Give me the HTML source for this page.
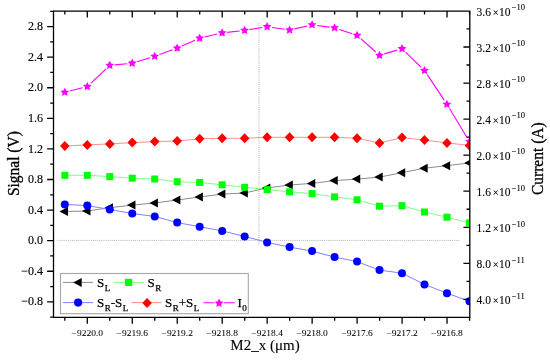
<!DOCTYPE html>
<html><head><meta charset="utf-8"><title>Signal vs M2_x</title>
<style>html,body{margin:0;padding:0;background:#fff;}svg{display:block;}text{font-family:"Liberation Serif","Times New Roman",serif;fill:#000;}</style>
</head><body>
<svg width="550" height="361" viewBox="0 0 550 361">
<rect width="550" height="361" fill="#fff"/>
<defs><clipPath id="pc"><rect x="53.5" y="11.1" width="416.3" height="306.3"/></clipPath></defs>
<line x1="57.3" y1="240.4" x2="460" y2="240.4" stroke="#a8a8a8" stroke-width="0.9" stroke-dasharray="1 1.1"/>
<line x1="259" y1="22.9" x2="259" y2="245.8" stroke="#a8a8a8" stroke-width="0.9" stroke-dasharray="1 1.1"/>
<g clip-path="url(#pc)">
<path d="M69.64,91.05L82.44,87.75 M90.93,83.08L106.11,68.82 M114.74,64.91L127.26,63.69 M137.02,61.73L149.94,57.77 M159.42,54.59L172.5,49.81 M181.78,46.08L195.1,40.22 M204.55,37.05L217.29,34.05 M227.13,32.35L239.67,30.95 M249.57,29.59L262.19,27.51 M272.07,27.43L284.65,29.27 M294.47,28.87L307.21,25.93 M317.04,25.46L329.6,27.14 M339.3,29.4L352.3,33.8 M360.78,38.71L375.78,51.99 M384.32,53.89L397.2,50.11 M405.59,52.18L420.89,67.02 M427.25,74.66L444.19,100.14 M449.55,108.58L466.85,137.22" fill="none" stroke="#ff00ff" stroke-width="1.1"/>
<polyline points="64.8,146 87.28,144.9 109.76,143.9 132.24,142.6 154.72,141.6 177.2,141 199.68,138.8 222.16,138.3 244.64,138.3 267.12,137.3 289.6,137.3 312.08,137.3 334.56,137.3 357.04,138.3 379.52,142.9 402,137.6 424.48,140 446.96,142.9 469.44,145.4" fill="none" stroke="#ff8f8f" stroke-width="1"/>
<polyline points="64.8,175.3 87.28,175.3 109.76,176.6 132.24,178.2 154.72,179 177.2,181.7 199.68,182.5 222.16,184.8 244.64,187.3 267.12,189.6 289.6,191.8 312.08,193.6 334.56,196.9 357.04,199.8 379.52,206.2 402,205.7 424.48,212 446.96,217.2 469.44,222.9" fill="none" stroke="#80ff80" stroke-width="1"/>
<polyline points="64.8,211.5 87.28,211 109.76,207.7 132.24,205.1 154.72,203 177.2,200 199.68,197 222.16,194.1 244.64,193 267.12,187.9 289.6,185 312.08,183.4 334.56,180.6 357.04,179.1 379.52,177.1 402,172.7 424.48,168.2 446.96,165.7 469.44,162.9" fill="none" stroke="#8c8c8c" stroke-width="1"/>
<polyline points="64.8,204.4 87.28,205.6 109.76,209.4 132.24,213.6 154.72,216.4 177.2,222.6 199.68,226.7 222.16,230.9 244.64,236.4 267.12,242.4 289.6,247.1 312.08,251.1 334.56,257.1 357.04,261.6 379.52,270.1 402,273.2 424.48,284.4 446.96,293.2 469.44,301.3" fill="none" stroke="#8080ff" stroke-width="1"/>
<path fill="#000" d="M59.5,211.5 L68,207 L68,216 Z M81.98,211 L90.48,206.5 L90.48,215.5 Z M104.46,207.7 L112.96,203.2 L112.96,212.2 Z M126.94,205.1 L135.44,200.6 L135.44,209.6 Z M149.42,203 L157.92,198.5 L157.92,207.5 Z M171.9,200 L180.4,195.5 L180.4,204.5 Z M194.38,197 L202.88,192.5 L202.88,201.5 Z M216.86,194.1 L225.36,189.6 L225.36,198.6 Z M239.34,193 L247.84,188.5 L247.84,197.5 Z M261.82,187.9 L270.32,183.4 L270.32,192.4 Z M284.3,185 L292.8,180.5 L292.8,189.5 Z M306.78,183.4 L315.28,178.9 L315.28,187.9 Z M329.26,180.6 L337.76,176.1 L337.76,185.1 Z M351.74,179.1 L360.24,174.6 L360.24,183.6 Z M374.22,177.1 L382.72,172.6 L382.72,181.6 Z M396.7,172.7 L405.2,168.2 L405.2,177.2 Z M419.18,168.2 L427.68,163.7 L427.68,172.7 Z M441.66,165.7 L450.16,161.2 L450.16,170.2 Z M464.14,162.9 L472.64,158.4 L472.64,167.4 Z"/>
<g fill="#00ff00"><rect x="61.3" y="171.8" width="7" height="7"/><rect x="83.78" y="171.8" width="7" height="7"/><rect x="106.26" y="173.1" width="7" height="7"/><rect x="128.74" y="174.7" width="7" height="7"/><rect x="151.22" y="175.5" width="7" height="7"/><rect x="173.7" y="178.2" width="7" height="7"/><rect x="196.18" y="179" width="7" height="7"/><rect x="218.66" y="181.3" width="7" height="7"/><rect x="241.14" y="183.8" width="7" height="7"/><rect x="263.62" y="186.1" width="7" height="7"/><rect x="286.1" y="188.3" width="7" height="7"/><rect x="308.58" y="190.1" width="7" height="7"/><rect x="331.06" y="193.4" width="7" height="7"/><rect x="353.54" y="196.3" width="7" height="7"/><rect x="376.02" y="202.7" width="7" height="7"/><rect x="398.5" y="202.2" width="7" height="7"/><rect x="420.98" y="208.5" width="7" height="7"/><rect x="443.46" y="213.7" width="7" height="7"/><rect x="465.94" y="219.4" width="7" height="7"/></g>
<g fill="#0000ff"><circle cx="64.8" cy="204.4" r="4"/><circle cx="87.28" cy="205.6" r="4"/><circle cx="109.76" cy="209.4" r="4"/><circle cx="132.24" cy="213.6" r="4"/><circle cx="154.72" cy="216.4" r="4"/><circle cx="177.2" cy="222.6" r="4"/><circle cx="199.68" cy="226.7" r="4"/><circle cx="222.16" cy="230.9" r="4"/><circle cx="244.64" cy="236.4" r="4"/><circle cx="267.12" cy="242.4" r="4"/><circle cx="289.6" cy="247.1" r="4"/><circle cx="312.08" cy="251.1" r="4"/><circle cx="334.56" cy="257.1" r="4"/><circle cx="357.04" cy="261.6" r="4"/><circle cx="379.52" cy="270.1" r="4"/><circle cx="402" cy="273.2" r="4"/><circle cx="424.48" cy="284.4" r="4"/><circle cx="446.96" cy="293.2" r="4"/><circle cx="469.44" cy="301.3" r="4"/></g>
<path fill="#ff00ff" d="M64.8,87.7 L66.15,90.44 L69.17,90.88 L66.99,93.01 L67.5,96.02 L64.8,94.6 L62.1,96.02 L62.61,93.01 L60.43,90.88 L63.45,90.44Z M87.28,81.9 L88.63,84.64 L91.65,85.08 L89.47,87.21 L89.98,90.22 L87.28,88.8 L84.58,90.22 L85.09,87.21 L82.91,85.08 L85.93,84.64Z M109.76,60.8 L111.11,63.54 L114.13,63.98 L111.95,66.11 L112.46,69.12 L109.76,67.7 L107.06,69.12 L107.57,66.11 L105.39,63.98 L108.41,63.54Z M132.24,58.6 L133.59,61.34 L136.61,61.78 L134.43,63.91 L134.94,66.92 L132.24,65.5 L129.54,66.92 L130.05,63.91 L127.87,61.78 L130.89,61.34Z M154.72,51.7 L156.07,54.44 L159.09,54.88 L156.91,57.01 L157.42,60.02 L154.72,58.6 L152.02,60.02 L152.53,57.01 L150.35,54.88 L153.37,54.44Z M177.2,43.5 L178.55,46.24 L181.57,46.68 L179.39,48.81 L179.9,51.82 L177.2,50.4 L174.5,51.82 L175.01,48.81 L172.83,46.68 L175.85,46.24Z M199.68,33.6 L201.03,36.34 L204.05,36.78 L201.87,38.91 L202.38,41.92 L199.68,40.5 L196.98,41.92 L197.49,38.91 L195.31,36.78 L198.33,36.34Z M222.16,28.3 L223.51,31.04 L226.53,31.48 L224.35,33.61 L224.86,36.62 L222.16,35.2 L219.46,36.62 L219.97,33.61 L217.79,31.48 L220.81,31.04Z M244.64,25.8 L245.99,28.54 L249.01,28.98 L246.83,31.11 L247.34,34.12 L244.64,32.7 L241.94,34.12 L242.45,31.11 L240.27,28.98 L243.29,28.54Z M267.12,22.1 L268.47,24.84 L271.49,25.28 L269.31,27.41 L269.82,30.42 L267.12,29 L264.42,30.42 L264.93,27.41 L262.75,25.28 L265.77,24.84Z M289.6,25.4 L290.95,28.14 L293.97,28.58 L291.79,30.71 L292.3,33.72 L289.6,32.3 L286.9,33.72 L287.41,30.71 L285.23,28.58 L288.25,28.14Z M312.08,20.2 L313.43,22.94 L316.45,23.38 L314.27,25.51 L314.78,28.52 L312.08,27.1 L309.38,28.52 L309.89,25.51 L307.71,23.38 L310.73,22.94Z M334.56,23.2 L335.91,25.94 L338.93,26.38 L336.75,28.51 L337.26,31.52 L334.56,30.1 L331.86,31.52 L332.37,28.51 L330.19,26.38 L333.21,25.94Z M357.04,30.8 L358.39,33.54 L361.41,33.98 L359.23,36.11 L359.74,39.12 L357.04,37.7 L354.34,39.12 L354.85,36.11 L352.67,33.98 L355.69,33.54Z M379.52,50.7 L380.87,53.44 L383.89,53.88 L381.71,56.01 L382.22,59.02 L379.52,57.6 L376.82,59.02 L377.33,56.01 L375.15,53.88 L378.17,53.44Z M402,44.1 L403.35,46.84 L406.37,47.28 L404.19,49.41 L404.7,52.42 L402,51 L399.3,52.42 L399.81,49.41 L397.63,47.28 L400.65,46.84Z M424.48,65.9 L425.83,68.64 L428.85,69.08 L426.67,71.21 L427.18,74.22 L424.48,72.8 L421.78,74.22 L422.29,71.21 L420.11,69.08 L423.13,68.64Z M446.96,99.7 L448.31,102.44 L451.33,102.88 L449.15,105.01 L449.66,108.02 L446.96,106.6 L444.26,108.02 L444.77,105.01 L442.59,102.88 L445.61,102.44Z M469.44,136.9 L470.79,139.64 L473.81,140.08 L471.63,142.21 L472.14,145.22 L469.44,143.8 L466.74,145.22 L467.25,142.21 L465.07,140.08 L468.09,139.64Z"/>
<path fill="#ff0000" d="M64.8,141 L69.6,146 L64.8,151 L60,146 Z M87.28,139.9 L92.08,144.9 L87.28,149.9 L82.48,144.9 Z M109.76,138.9 L114.56,143.9 L109.76,148.9 L104.96,143.9 Z M132.24,137.6 L137.04,142.6 L132.24,147.6 L127.44,142.6 Z M154.72,136.6 L159.52,141.6 L154.72,146.6 L149.92,141.6 Z M177.2,136 L182,141 L177.2,146 L172.4,141 Z M199.68,133.8 L204.48,138.8 L199.68,143.8 L194.88,138.8 Z M222.16,133.3 L226.96,138.3 L222.16,143.3 L217.36,138.3 Z M244.64,133.3 L249.44,138.3 L244.64,143.3 L239.84,138.3 Z M267.12,132.3 L271.92,137.3 L267.12,142.3 L262.32,137.3 Z M289.6,132.3 L294.4,137.3 L289.6,142.3 L284.8,137.3 Z M312.08,132.3 L316.88,137.3 L312.08,142.3 L307.28,137.3 Z M334.56,132.3 L339.36,137.3 L334.56,142.3 L329.76,137.3 Z M357.04,133.3 L361.84,138.3 L357.04,143.3 L352.24,138.3 Z M379.52,137.9 L384.32,142.9 L379.52,147.9 L374.72,142.9 Z M402,132.6 L406.8,137.6 L402,142.6 L397.2,137.6 Z M424.48,135 L429.28,140 L424.48,145 L419.68,140 Z M446.96,137.9 L451.76,142.9 L446.96,147.9 L442.16,142.9 Z M469.44,140.4 L474.24,145.4 L469.44,150.4 L464.64,145.4 Z"/>
</g>
<g stroke="#000" stroke-width="1.3" fill="none">
<path d="M53.5,11.1 H469.8 V317.4 H53.5 Z"/>
<path d="M87.3,317.4v6.4 M87.3,11.1v6.4 M132.27,317.4v6.4 M132.27,11.1v6.4 M177.24,317.4v6.4 M177.24,11.1v6.4 M222.2,317.4v6.4 M222.2,11.1v6.4 M267.17,317.4v6.4 M267.17,11.1v6.4 M312.14,317.4v6.4 M312.14,11.1v6.4 M357.11,317.4v6.4 M357.11,11.1v6.4 M402.08,317.4v6.4 M402.08,11.1v6.4 M447.04,317.4v6.4 M447.04,11.1v6.4 M64.82,317.4v3.3 M64.82,11.1v3.3 M109.78,317.4v3.3 M109.78,11.1v3.3 M154.75,317.4v3.3 M154.75,11.1v3.3 M199.72,317.4v3.3 M199.72,11.1v3.3 M244.69,317.4v3.3 M244.69,11.1v3.3 M289.66,317.4v3.3 M289.66,11.1v3.3 M334.62,317.4v3.3 M334.62,11.1v3.3 M379.59,317.4v3.3 M379.59,11.1v3.3 M424.56,317.4v3.3 M424.56,11.1v3.3 M469.53,317.4v3.3 M469.53,11.1v3.3 M53.5,26.57h-6.4 M53.5,57.16h-6.4 M53.5,87.74h-6.4 M53.5,118.32h-6.4 M53.5,148.91h-6.4 M53.5,179.49h-6.4 M53.5,210.08h-6.4 M53.5,240.66h-6.4 M53.5,271.24h-6.4 M53.5,301.83h-6.4 M53.5,11.28h-3.3 M53.5,41.86h-3.3 M53.5,72.45h-3.3 M53.5,103.03h-3.3 M53.5,133.62h-3.3 M53.5,164.2h-3.3 M53.5,194.78h-3.3 M53.5,225.37h-3.3 M53.5,255.95h-3.3 M53.5,286.54h-3.3 M53.5,317.12h-3.3 M469.8,47h-6.4 M469.8,83.05h-6.4 M469.8,119.11h-6.4 M469.8,155.16h-6.4 M469.8,191.22h-6.4 M469.8,227.28h-6.4 M469.8,263.33h-6.4 M469.8,299.39h-6.4 M469.8,28.97h-3.3 M469.8,65.02h-3.3 M469.8,101.08h-3.3 M469.8,137.14h-3.3 M469.8,173.19h-3.3 M469.8,209.25h-3.3 M469.8,245.3h-3.3 M469.8,281.36h-3.3"/>
</g>
<g font-size="12" text-anchor="end" stroke="#000" stroke-width="0.15">
<text x="43" y="30.17">2.8</text>
<text x="43" y="60.76">2.4</text>
<text x="43" y="91.34">2.0</text>
<text x="43" y="121.92">1.6</text>
<text x="43" y="152.51">1.2</text>
<text x="43" y="183.09">0.8</text>
<text x="43" y="213.68">0.4</text>
<text x="43" y="244.26">0.0</text>
<text x="43" y="274.84">−0.4</text>
<text x="43" y="305.43">−0.8</text>
</g>
<g font-size="9.5" text-anchor="middle" stroke="#000" stroke-width="0.05">
<text transform="translate(87.3,335.6) scale(1,0.9)">−9220.0</text>
<text transform="translate(132.27,335.6) scale(1,0.9)">−9219.6</text>
<text transform="translate(177.24,335.6) scale(1,0.9)">−9219.2</text>
<text transform="translate(222.2,335.6) scale(1,0.9)">−9218.8</text>
<text transform="translate(267.17,335.6) scale(1,0.9)">−9218.4</text>
<text transform="translate(312.14,335.6) scale(1,0.9)">−9218.0</text>
<text transform="translate(357.11,335.6) scale(1,0.9)">−9217.6</text>
<text transform="translate(402.08,335.6) scale(1,0.9)">−9217.2</text>
<text transform="translate(447.04,335.6) scale(1,0.9)">−9216.8</text>
</g>
<g font-size="11.5" stroke="#000" stroke-width="0.1">
<text x="476.6" y="15.54">3.6<tspan font-size="10.5" dx="1.7">×</tspan><tspan dx="0.5">10</tspan><tspan font-size="8.6" dx="1.1" dy="-5.3">−10</tspan></text>
<text x="476.6" y="51.6">3.2<tspan font-size="10.5" dx="1.7">×</tspan><tspan dx="0.5">10</tspan><tspan font-size="8.6" dx="1.1" dy="-5.3">−10</tspan></text>
<text x="476.6" y="87.65">2.8<tspan font-size="10.5" dx="1.7">×</tspan><tspan dx="0.5">10</tspan><tspan font-size="8.6" dx="1.1" dy="-5.3">−10</tspan></text>
<text x="476.6" y="123.71">2.4<tspan font-size="10.5" dx="1.7">×</tspan><tspan dx="0.5">10</tspan><tspan font-size="8.6" dx="1.1" dy="-5.3">−10</tspan></text>
<text x="476.6" y="159.76">2.0<tspan font-size="10.5" dx="1.7">×</tspan><tspan dx="0.5">10</tspan><tspan font-size="8.6" dx="1.1" dy="-5.3">−10</tspan></text>
<text x="476.6" y="195.82">1.6<tspan font-size="10.5" dx="1.7">×</tspan><tspan dx="0.5">10</tspan><tspan font-size="8.6" dx="1.1" dy="-5.3">−10</tspan></text>
<text x="476.6" y="231.88">1.2<tspan font-size="10.5" dx="1.7">×</tspan><tspan dx="0.5">10</tspan><tspan font-size="8.6" dx="1.1" dy="-5.3">−10</tspan></text>
<text x="476.6" y="267.93">8.0<tspan font-size="10.5" dx="1.7">×</tspan><tspan dx="0.5">10</tspan><tspan font-size="8.6" dx="1.1" dy="-5.3">−11</tspan></text>
<text x="476.6" y="303.99">4.0<tspan font-size="10.5" dx="1.7">×</tspan><tspan dx="0.5">10</tspan><tspan font-size="8.6" dx="1.1" dy="-5.3">−11</tspan></text>
</g>
<text font-size="15.5" stroke="#000" stroke-width="0.3" transform="translate(19,163.6) rotate(-90) scale(1,1.12)" text-anchor="middle">Signal (V)</text>
<text font-size="15.5" stroke="#000" stroke-width="0.3" transform="translate(543,158.7) rotate(-90) scale(1,1.12)" text-anchor="middle">Current (A)</text>
<text font-size="15" x="265" y="349.8" text-anchor="middle" stroke="#000" stroke-width="0.1">M2_x (μm)</text>
<rect x="60.5" y="273.5" width="187.8" height="40.2" fill="#fff" stroke="#a6a6a6" stroke-width="1.1"/>
<line x1="63" y1="282.4" x2="93" y2="282.4" stroke="#8c8c8c" stroke-width="1"/>
<path fill="#000" d="M73.2,282.4 L81.7,277.9 L81.7,286.9 Z"/>
<line x1="113.6" y1="282.4" x2="143.6" y2="282.4" stroke="#80ff80" stroke-width="1"/>
<rect x="125" y="278.8" width="7.2" height="7.2" fill="#00ff00"/>
<line x1="63" y1="302.6" x2="93" y2="302.6" stroke="#8080ff" stroke-width="1"/>
<circle cx="78.1" cy="302.6" r="4.1" fill="#0000ff"/>
<line x1="131.5" y1="302.6" x2="161.5" y2="302.6" stroke="#ff8f8f" stroke-width="1"/>
<path fill="#ff0000" d="M147.1,298 L151.9,303 L147.1,308 L142.3,303 Z"/>
<path d="M203.4,302.8H214.4M223.8,302.8H234.8" stroke="#ff00ff" stroke-width="1.1"/>
<path fill="#ff00ff" d="M219.1,298.6 L220.45,301.34 L223.47,301.78 L221.29,303.91 L221.8,306.92 L219.1,305.5 L216.4,306.92 L216.91,303.91 L214.73,301.78 L217.75,301.34Z"/>
<g font-size="13" stroke="#000" stroke-width="0.25">
<text x="97" y="287.2">S<tspan font-size="9" dx="0.5" dy="3.9">L</tspan></text>
<text x="147.6" y="287.2">S<tspan font-size="9" dx="0.5" dy="3.9">R</tspan></text>
<text x="97" y="307.3">S<tspan font-size="9" dx="0.5" dy="3.9">R</tspan><tspan dy="-3.9">-S</tspan><tspan font-size="9" dx="0.5" dy="3.9">L</tspan></text>
<text x="165" y="307.3">S<tspan font-size="9" dx="0.5" dy="3.9">R</tspan><tspan dy="-3.9">+S</tspan><tspan font-size="9" dx="0.5" dy="3.9">L</tspan></text>
<text x="237.5" y="307.3">I<tspan font-size="9" dx="0.5" dy="3.9">0</tspan></text>
</g>
</svg>
</body></html>
